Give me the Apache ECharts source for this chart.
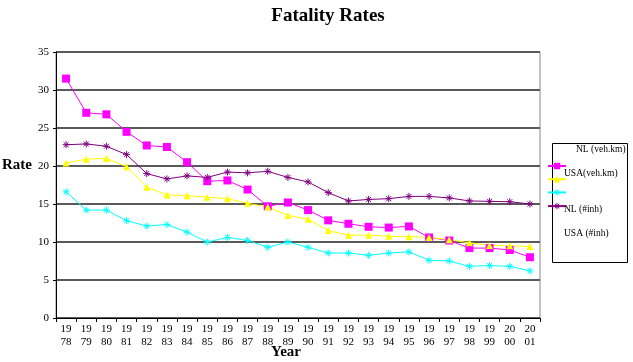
<!DOCTYPE html>
<html><head><meta charset="utf-8">
<script src="https://cdn.jsdelivr.net/npm/echarts@6/dist/echarts.min.js"></script>
<style>html,body{margin:0;padding:0;background:#fff}#c{width:633px;height:362px}</style>
</head><body><div id="c"></div>
<script>
var years = ['1978','1979','1980','1981','1982','1983','1984','1985','1986','1987','1988','1989','1990','1991','1992','1993','1994','1995','1996','1997','1998','1999','2000','2001'];
var nlVehKm  = [31.5,27.0,26.8,24.5,22.7,22.5,20.5,18.0,18.1,16.9,14.7,15.2,14.2,12.85,12.4,12.0,11.9,12.05,10.6,10.2,9.2,9.2,8.95,8.0];
var usaVehKm = [20.4,20.9,21.0,19.9,17.2,16.2,16.1,15.9,15.7,15.1,14.6,13.5,13.0,11.5,10.9,10.9,10.75,10.7,10.6,10.3,9.9,9.55,9.5,9.4];
var nlInh    = [16.6,14.2,14.2,12.8,12.1,12.3,11.3,10.0,10.6,10.2,9.3,10.0,9.3,8.55,8.55,8.25,8.55,8.7,7.6,7.5,6.8,6.9,6.8,6.2];
var usaInh   = [22.8,22.9,22.6,21.5,19.0,18.3,18.7,18.5,19.2,19.1,19.3,18.5,17.9,16.5,15.4,15.6,15.7,16.0,16.0,15.8,15.4,15.35,15.3,15.0];
var yTicks = [0,5,10,15,20,25,30,35];

var serif = '"Liberation Serif","Times New Roman",serif';
var star = 'path://M5,0L5,10M0,5L10,5M1.5,1.5L8.5,8.5M8.5,1.5L1.5,8.5';
var chart = echarts.init(document.getElementById('c'));
function mk(name, data, color, symbol, size, border){
  return {name:name, type:'line', data:data, symbol:symbol, symbolSize:size,
    lineStyle:{color:color, width:1}, itemStyle:{color:color, borderColor:color, borderWidth:border},
    emphasis:{disabled:true}, animation:false};
}
chart.setOption({
  animation:false,
  title:{text:'Fatality Rates', left:323, textAlign:'center', top:2,
    textStyle:{fontFamily:serif, fontWeight:'bold', fontSize:19, color:'#000'}},
  grid:{left:56, right:93, top:52, bottom:44, show:true, borderColor:'#888', borderWidth:1, backgroundColor:'#fff'},
  legend:{orient:'vertical', left:547, top:162, padding:0, itemWidth:18, itemHeight:8, itemGap:6,
    formatter:function(){return '';}, selectedMode:false,
    data:[{name:'NL (veh.km)'},{name:'USA(veh.km)'},
      {name:'NL (#inh)', itemStyle:{borderWidth:1, borderColor:'#00ffff'}},
      {name:'USA (#inh)', itemStyle:{borderWidth:1, borderColor:'#800080'}}]},
  xAxis:{type:'category', data:years, boundaryGap:true,
    axisLine:{lineStyle:{color:'#000', width:1}},
    axisTick:{show:true, length:4, lineStyle:{color:'#000'}},
    axisLabel:{fontFamily:serif, fontSize:11, color:'#000', margin:5, lineHeight:13, interval:0,
      formatter:function(v){return v.slice(0,2)+'\n'+v.slice(2);}},
    splitLine:{show:false}},
  yAxis:{type:'value', min:0, max:35, interval:5,
    axisLine:{show:true, lineStyle:{color:'#000', width:1}},
    axisTick:{show:true, length:3, lineStyle:{color:'#000'}},
    axisLabel:{fontFamily:serif, fontSize:11, color:'#000', margin:7,
      formatter:function(v){return yTicks.indexOf(v)>=0 ? String(v) : '';}},
    splitLine:{show:true, lineStyle:{color:'#5a5a5a', width:2}}},
  graphic:[
    {type:'text', left:2, top:158, style:{text:'Rate', font:'bold 15px '+serif, fill:'#000'}},
    {type:'text', left:271, top:345, style:{text:'Year', font:'bold 15px '+serif, fill:'#000'}},
    {type:'rect', shape:{x:552.5, y:143.5, width:75, height:119}, style:{fill:'none', stroke:'#000', lineWidth:1}, z:-1},
    {type:'text', left:576, top:144, style:{text:'NL (veh.km)', font:'9.5px '+serif, fill:'#000'}},
    {type:'text', left:564, top:168, style:{text:'USA(veh.km)', font:'9.5px '+serif, fill:'#000'}},
    {type:'text', left:564, top:204, style:{text:'NL (#inh)', font:'9.5px '+serif, fill:'#000'}},
    {type:'text', left:564, top:228, style:{text:'USA (#inh)', font:'9.5px '+serif, fill:'#000'}}
  ],
  series:[
    mk('NL (veh.km)', nlVehKm, '#ff00ff', 'rect', 8, 0),
    mk('USA(veh.km)', usaVehKm, '#ffff00', 'triangle', 7, 0),
    mk('NL (#inh)', nlInh, '#00ffff', star, 7, 1),
    mk('USA (#inh)', usaInh, '#800080', star, 7, 1)
  ]
});
</script></body></html>
